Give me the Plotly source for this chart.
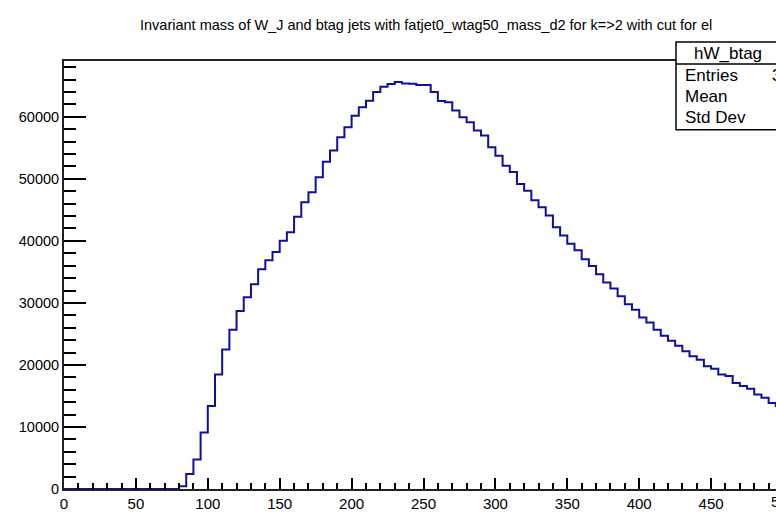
import plotly.graph_objects as go

# ---- data ----
bin_width = 5
bin_edges = [i * bin_width for i in range(101)]  # 0..500
counts = [0] * 16 + [
    450, 2400, 4770, 9100, 13390, 18460, 22470, 25680, 28680, 30930,
    33010, 35420, 36870, 38200, 40030, 41410, 43880, 46220, 47830, 50240,
    52760, 54570, 56720, 58320, 60190, 61530, 62600, 63990, 64840, 65280,
    65600, 65390, 65330, 65120, 65120, 63990, 62550, 62340, 61000, 59930,
    59130, 57780, 56980, 55110, 53720, 52110, 51100, 49180, 48100, 46550,
    45420, 44090, 42210, 40880, 39550, 38470, 37030, 35950, 34620, 33290,
    32320, 31090, 29800, 28890, 27640, 26830, 25680, 24720, 23920, 23110,
    22210, 21410, 20820, 19800, 19370, 18460, 18200, 17080, 16600, 16160,
    15250, 14720, 13870, 13400,
]
title_text = "Invariant mass of W_J and btag jets with fatjet0_wtag50_mass_d2 for k=>2 with cut for el"
stat_name = "hW_btag"
stat_rows = ["Entries", "Mean", "Std Dev"]
x_ticks = [0, 50, 100, 150, 200, 250, 300, 350, 400, 450]
y_ticks = [0, 10000, 20000, 30000, 40000, 50000, 60000]

# ---- geometry ----
W, H = 776, 512
ML, MT, MB, MR = 64, 61, 21, 0
PW, PH = W - ML - MR, H - MT - MB
px_per_unit = 1.438
x_max = PW / px_per_unit
y_max = 69000


def px(xp):
    return (xp - ML) / PW


def py(yp):
    return (H - MB - yp) / PH


xs = bin_edges
ys = counts + [counts[-1]]

fig = go.Figure()
fig.add_trace(go.Scatter(
    x=xs, y=ys, mode="lines", line=dict(shape="hv", color="#10109e", width=2),
    hoverinfo="skip", showlegend=False, cliponaxis=True,
))

font = "Liberation Sans, Arial, sans-serif"
fig.update_layout(
    width=W, height=H,
    margin=dict(l=ML, r=MR, t=MT, b=MB, pad=0),
    paper_bgcolor="white", plot_bgcolor="white",
    showlegend=False,
    font=dict(family=font, color="black"),
    xaxis=dict(
        range=[0, x_max], showgrid=False, zeroline=False,
        showline=True, linecolor="#222", linewidth=2, mirror=True,
        ticks="inside", ticklen=11, tickwidth=1.5, tickcolor="black",
        tickvals=x_ticks, ticktext=[str(v) for v in x_ticks],
        tickfont=dict(size=15, family=font),
        minor=dict(dtick=10, tick0=0, ticks="inside", ticklen=6, tickwidth=1.5, tickcolor="black"),
    ),
    yaxis=dict(
        range=[0, y_max], showgrid=False, zeroline=False,
        showline=True, linecolor="#222", linewidth=2, mirror=False,
        ticks="inside", ticklen=22, tickwidth=1.5, tickcolor="black",
        tickvals=y_ticks, ticktext=[str(v) for v in y_ticks],
        tickfont=dict(size=14.5, family=font),
        minor=dict(dtick=2000, tick0=0, ticks="inside", ticklen=12, tickwidth=1.5, tickcolor="black"),
    ),
)

# title
fig.add_annotation(text=title_text, xref="paper", yref="paper", x=px(425.5), y=py(25),
                   showarrow=False, xanchor="center", yanchor="middle",
                   font=dict(size=14.5, family=font, color="black"))

# cut "500" label on the right edge
fig.add_annotation(text="500", xref="paper", yref="paper", x=px(ML + 500 * px_per_unit), y=py(504),
                   showarrow=False, xanchor="center", yanchor="middle",
                   font=dict(size=15, family=font, color="black"))

# stat box
bx0, by0, by_sep, by1 = 676, 42, 64, 130
fig.add_shape(type="rect", xref="paper", yref="paper", x0=px(bx0), x1=px(W + 40), y0=py(by1), y1=py(by0),
              line=dict(color="black", width=1.5), fillcolor="white", layer="above")
fig.add_shape(type="line", xref="paper", yref="paper", x0=px(bx0), x1=px(W + 40), y0=py(by_sep), y1=py(by_sep),
              line=dict(color="black", width=1.5), layer="above")
fig.add_annotation(text=stat_name, xref="paper", yref="paper", x=px(728), y=py(53),
                   showarrow=False, xanchor="center", yanchor="middle",
                   font=dict(size=17, family=font, color="black"))
for row, yp in zip(stat_rows, [76, 97, 118]):
    fig.add_annotation(text=row, xref="paper", yref="paper", x=px(683), y=py(yp),
                       showarrow=False, xanchor="left", yanchor="middle",
                       font=dict(size=17, family=font, color="black"))
fig.add_annotation(text="3", xref="paper", yref="paper", x=px(770), y=py(76),
                   showarrow=False, xanchor="left", yanchor="middle",
                   font=dict(size=17, family=font, color="black"))

fig.write_html(
    "out.html",
    config={"displayModeBar": False},
    post_script="document.body.style.margin='0';document.body.style.overflow='hidden';",
)
